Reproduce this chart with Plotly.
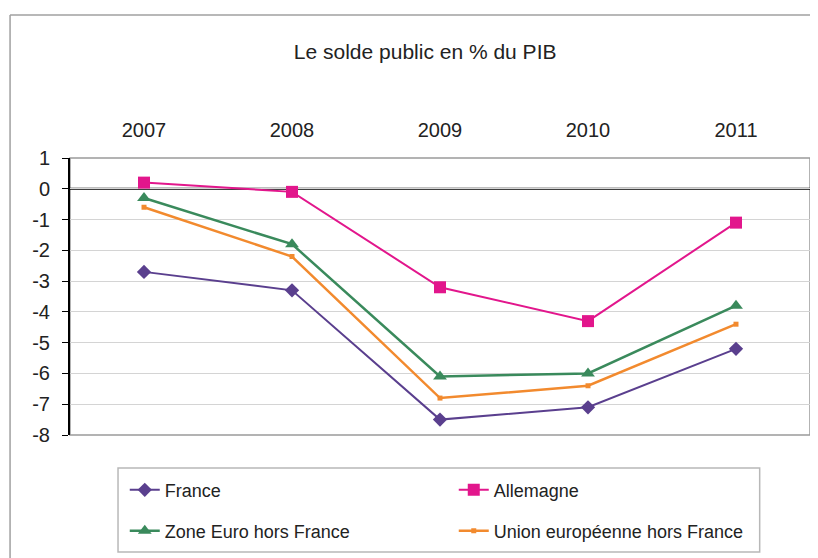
import plotly.graph_objects as go

years = ["2007", "2008", "2009", "2010", "2011"]
france = [-2.7, -3.3, -7.5, -7.1, -5.2]
allemagne = [0.2, -0.1, -3.2, -4.3, -1.1]
zone_euro = [-0.3, -1.8, -6.1, -6.0, -3.8]
ue = [-0.6, -2.2, -6.8, -6.4, -4.4]
y_ticks = [1, 0, -1, -2, -3, -4, -5, -6, -7, -8]
y_tick_labels = ["1", "0", "-1", "-2", "-3", "-4", "-5", "-6", "-7", "-8"]

REG = "Liberation Sans, Arial, sans-serif"

fig = go.Figure()
fig.add_trace(go.Scatter(x=years, y=france, name="France", mode="lines+markers",
                         line=dict(color="#5a3f8e", width=2),
                         marker=dict(symbol="diamond", size=11, color="#5a3f8e"), legend="legend"))
fig.add_trace(go.Scatter(x=years, y=allemagne, name="Allemagne", mode="lines+markers",
                         line=dict(color="#e2168c", width=2),
                         marker=dict(symbol="square", size=12, color="#e2168c"), legend="legend"))
fig.add_trace(go.Scatter(x=years, y=zone_euro, name="Zone Euro hors France", mode="lines+markers",
                         line=dict(color="#3a8a5c", width=2.5),
                         marker=dict(symbol="triangle-up", size=12, color="#3a8a5c"), legend="legend2"))
fig.add_trace(go.Scatter(x=years, y=ue, name="Union européenne hors France", mode="lines+markers",
                         line=dict(color="#f28a2e", width=2.5),
                         marker=dict(symbol="square", size=5, color="#f28a2e"), legend="legend2"))

# outer frame (left and top edges)
fig.add_shape(type="line", xref="paper", yref="paper", x0=-0.081, x1=-0.081, y0=-0.6, y1=1.516,
              line=dict(color="#a0a0a0", width=1.5), layer="below")
fig.add_shape(type="line", xref="paper", yref="paper", x0=-0.081, x1=1.1, y0=1.516, y1=1.516,
              line=dict(color="#a0a0a0", width=1.5), layer="below")
# plot border
fig.add_shape(type="rect", xref="paper", yref="paper", x0=0, x1=1, y0=0, y1=1,
              line=dict(color="#9a9a9a", width=1.5), layer="below")
# zero line
fig.add_shape(type="line", xref="paper", yref="y", x0=0, x1=1, y0=0, y1=0,
              line=dict(color="black", width=2), layer="below")
# legend box
fig.add_shape(type="rect", xref="paper", yref="paper", x0=0.0649, x1=0.932, y0=-0.422, y1=-0.119,
              line=dict(color="#b8b8b8", width=1.5), fillcolor="rgba(0,0,0,0)")

leg_common = dict(orientation="h", xanchor="left", yanchor="middle", entrywidth=284,
                  bgcolor="rgba(0,0,0,0)", borderwidth=0,
                  font=dict(family=REG, size=18, color="#222"), traceorder="normal")

fig.update_layout(
    width=810, height=550,
    margin=dict(l=62, r=8, t=150, b=123, autoexpand=False),
    paper_bgcolor="white", plot_bgcolor="white",
    font=dict(family=REG, size=20, color="#222"),
    title=dict(text="Le solde public en % du PIB", x=0.515, xanchor="center", xref="container",
               y=0.92, yref="container", yanchor="middle",
               font=dict(family=REG, size=21, color="#222")),
    xaxis=dict(side="top", showgrid=False, showline=False, ticks="", ticklabelstandoff=16,
               range=[-0.5, 4.5], zeroline=False, tickfont=dict(family=REG, size=20)),
    yaxis=dict(range=[-8, 1], tickvals=y_ticks, ticktext=y_tick_labels, showgrid=True,
               gridcolor="#d4d4d4", gridwidth=1,
               showline=True, linecolor="black", linewidth=2, ticks="outside", ticklen=6,
               tickcolor="black", zeroline=False, ticklabelstandoff=8,
               tickfont=dict(family=REG, size=20)),
    legend=dict(x=0.074, y=-0.199, **leg_common),
    legend2=dict(x=0.074, y=-0.347, **leg_common),
    showlegend=True,
)

fig.write_html("out.html")
